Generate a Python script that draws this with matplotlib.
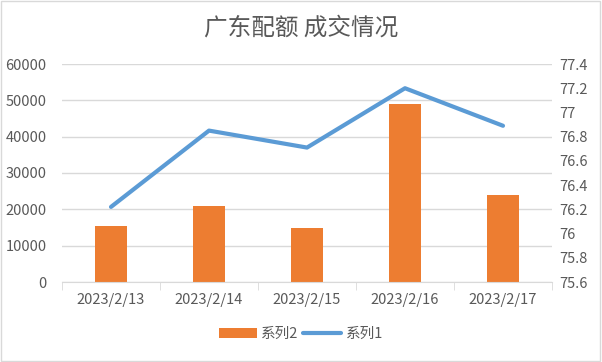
import numpy as np
import matplotlib.pyplot as plt
from matplotlib.patches import Rectangle

plt.rcParams['font.family'] = ['Noto Sans CJK SC', 'DejaVu Sans']

# data
dates = ['2023/2/13', '2023/2/14', '2023/2/15', '2023/2/16', '2023/2/17']
volume = [15400, 20900, 14900, 49000, 24000]      # 系列2, left axis
price = [76.22, 76.85, 76.71, 77.20, 76.89]       # 系列1, right axis

ORANGE = '#ED7D31'
BLUE = '#5B9BD5'
GRID = '#D9D9D9'
TEXT = '#595959'

fig = plt.figure(figsize=(6.02, 3.62), dpi=100)
fig.patches.append(Rectangle((0.002, 0.003), 0.995, 0.993, transform=fig.transFigure,
                             fill=False, edgecolor=GRID, linewidth=1))

ax = fig.add_axes([62 / 602, 1 - 282 / 362, 490 / 602, 218 / 362])
x = np.arange(len(dates))

bars = ax.bar(x, volume, width=0.32, color=ORANGE, zorder=2, label='系列2')
ax.set_ylim(0, 60000)
ax.set_yticks(np.arange(0, 60001, 10000))
ax.set_xlim(-0.5, len(dates) - 0.5)
ax.set_xticks(x)
ax.set_xticklabels(dates)
ax.set_xticks(np.arange(-0.5, len(dates), 1.0), minor=True)
ax.grid(axis='y', color=GRID, linewidth=1, zorder=0)
ax.set_axisbelow(True)
for s in ['left', 'right', 'top']:
    ax.spines[s].set_visible(False)
ax.spines['bottom'].set_color(GRID)
ax.tick_params(axis='x', which='major', length=0, pad=8, labelsize=10.5, labelcolor=TEXT)
ax.tick_params(axis='x', which='minor', length=6, color=GRID)
ax.tick_params(axis='y', length=0, pad=11, labelsize=10.5, labelcolor=TEXT)

ax2 = ax.twinx()
line, = ax2.plot(x, price, color=BLUE, linewidth=3, solid_capstyle='round', label='系列1')
ax2.set_ylim(75.6, 77.4)
ax2.set_yticks([75.6, 75.8, 76.0, 76.2, 76.4, 76.6, 76.8, 77.0, 77.2, 77.4])
ax2.set_yticklabels(['75.6', '75.8', '76', '76.2', '76.4', '76.6', '76.8', '77', '77.2', '77.4'])
for s in ['left', 'right', 'top', 'bottom']:
    ax2.spines[s].set_visible(False)
ax2.tick_params(axis='y', length=0, pad=5, labelsize=10.5, labelcolor=TEXT)

fig.text(0.5, 1 - 28 / 362, '广东配额 成交情况', ha='center', va='center',
         fontsize=17, color=TEXT)

fig.legend([bars, line], ['系列2', '系列1'], loc='center', bbox_to_anchor=(0.5, 1 - 334 / 362),
           ncol=2, frameon=False, fontsize=10.5, labelcolor=TEXT, handlelength=2.6,
           columnspacing=0.3, handletextpad=0.3)

fig.savefig('out.png', dpi=100)
